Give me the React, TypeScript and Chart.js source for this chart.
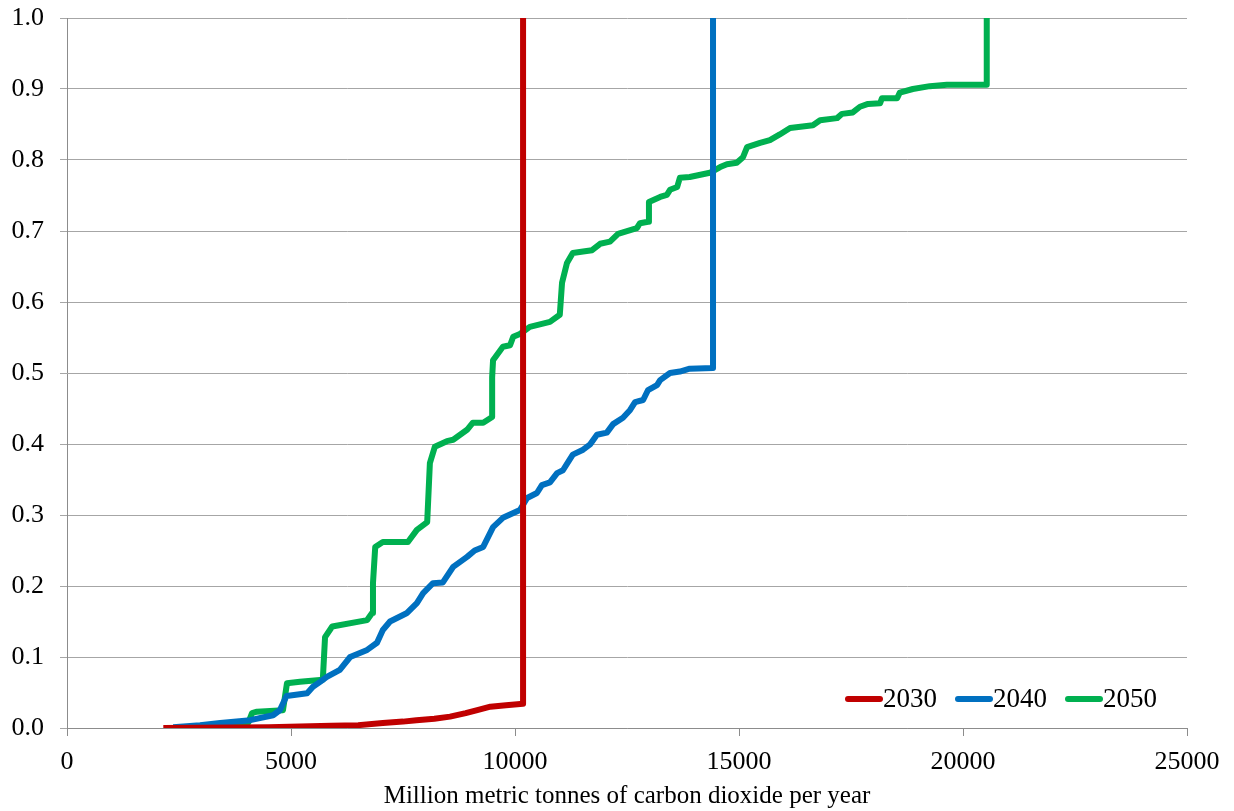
import React, { useEffect, useRef } from "react";
import { Chart, registerables } from "chart.js";

Chart.register(...registerables);

const seriesLabels = ["2030", "2040", "2050"];

const x2030 = [2150, 4500, 5900, 6500, 7050, 7500, 7800, 8200, 8550, 8900, 9200, 9450, 9800, 10180, 10180];
const y2030 = [0, 0.001, 0.003, 0.004, 0.007, 0.009, 0.011, 0.013, 0.016, 0.021, 0.026, 0.030, 0.032, 0.034, 1.0];

const x2040 = [2370, 2970, 3420, 4090, 4600, 4750, 4900, 5360, 5490, 5650, 5800, 6090, 6320, 6700, 6920, 7050, 7210, 7590, 7810, 7950, 8170, 8390, 8620, 8930, 9100, 9290, 9510, 9730, 10110, 10270, 10490, 10600, 10780, 10940, 11070, 11290, 11520, 11670, 11830, 12050, 12190, 12410, 12570, 12680, 12860, 12970, 13170, 13240, 13460, 13680, 13900, 14420, 14420];
const y2040 = [0.001, 0.004, 0.007, 0.011, 0.018, 0.025, 0.045, 0.049, 0.058, 0.065, 0.072, 0.082, 0.1, 0.11, 0.12, 0.138, 0.15, 0.162, 0.176, 0.19, 0.204, 0.205, 0.227, 0.241, 0.25, 0.255, 0.283, 0.296, 0.307, 0.324, 0.331, 0.342, 0.346, 0.359, 0.363, 0.385, 0.392, 0.399, 0.413, 0.416, 0.428, 0.437, 0.448, 0.459, 0.462, 0.476, 0.483, 0.49, 0.5, 0.502, 0.506, 0.507, 1.0];

const x2050 = [3420, 4050, 4130, 4240, 4820, 4910, 5200, 5710, 5760, 5920, 6700, 6810, 6830, 6880, 7050, 7610, 7810, 8040, 8100, 8210, 8480, 8620, 8930, 9060, 9290, 9490, 9490, 9510, 9730, 9890, 9960, 10110, 10330, 10780, 11000, 11050, 11160, 11290, 11520, 11720, 11900, 12120, 12300, 12720, 12790, 12970, 12990, 13240, 13390, 13460, 13620, 13680, 13900, 14350, 14580, 14730, 14950, 15090, 15180, 15470, 15690, 15910, 16140, 16650, 16810, 17190, 17300, 17540, 17700, 17880, 18150, 18190, 18530, 18590, 18880, 19260, 19640, 20530, 20530];
const y2050 = [0.001, 0.008, 0.021, 0.023, 0.025, 0.063, 0.065, 0.068, 0.128, 0.143, 0.152, 0.162, 0.204, 0.255, 0.262, 0.262, 0.279, 0.29, 0.373, 0.396, 0.404, 0.406, 0.42, 0.43, 0.43, 0.438, 0.494, 0.518, 0.537, 0.539, 0.551, 0.555, 0.565, 0.572, 0.582, 0.627, 0.655, 0.669, 0.671, 0.673, 0.682, 0.685, 0.696, 0.704, 0.711, 0.713, 0.741, 0.748, 0.751, 0.758, 0.762, 0.775, 0.776, 0.782, 0.79, 0.794, 0.796, 0.804, 0.818, 0.824, 0.828, 0.836, 0.845, 0.849, 0.856, 0.859, 0.865, 0.867, 0.875, 0.879, 0.88, 0.887, 0.887, 0.895, 0.9, 0.904, 0.906, 0.906, 1.0];

const xTitle = "Million metric tonnes of carbon dioxide per year";

const COLORS = ["#C00000", "#0070C0", "#00B050"];
const FONT = '"Liberation Serif", "Times New Roman", serif';

function pts(xs: number[], ys: number[]) {
  return xs.map((x, i) => ({ x, y: ys[i] }));
}

const insideLegend = {
  id: "insideLegend",
  afterDraw(chart: any) {
    const { ctx, chartArea } = chart;
    ctx.save();
    ctx.font = `27px ${FONT}`;
    const sample = 38;
    const gap = 18;
    const items = chart.data.datasets.map((d: any) => ({
      label: d.label,
      color: d.borderColor,
      w: ctx.measureText(d.label).width,
    }));
    const total = items.reduce((s: number, it: any) => s + sample + it.w, 0) + gap * (items.length - 1);
    let x = chartArea.right - 30 - total;
    const y = chartArea.bottom - 29;
    for (const it of items) {
      ctx.strokeStyle = it.color;
      ctx.lineWidth = 6;
      ctx.lineCap = "round";
      ctx.beginPath();
      ctx.moveTo(x + 3, y);
      ctx.lineTo(x + sample - 3, y);
      ctx.stroke();
      ctx.fillStyle = "#000";
      ctx.textBaseline = "middle";
      ctx.textAlign = "left";
      ctx.fillText(it.label, x + sample, y + 1);
      x += sample + it.w + gap;
    }
    ctx.restore();
  },
};

export default function App() {
  const ref = useRef<HTMLCanvasElement>(null);
  useEffect(() => {
    if (!ref.current) return;
    const series = [pts(x2030, y2030), pts(x2040, y2040), pts(x2050, y2050)];
    const chart = new Chart(ref.current, {
      type: "scatter",
      data: {
        datasets: series.map((data, i) => ({
          label: seriesLabels[i],
          data,
          showLine: true,
          borderColor: COLORS[i],
          backgroundColor: COLORS[i],
          borderWidth: 6,
          pointRadius: 0,
          tension: 0,
          borderJoinStyle: "round",
          borderCapStyle: "butt",
        })),
      },
      options: {
        animation: false,
        responsive: false,
        maintainAspectRatio: false,
        layout: { padding: { top: 18, right: 47, left: 0, bottom: 0 } },
        plugins: {
          legend: { display: false },
          tooltip: { enabled: false },
        },
        scales: {
          x: {
            type: "linear",
            min: 0,
            max: 25000,
            ticks: {
              stepSize: 5000,
              color: "#000",
              font: { family: FONT, size: 26 },
              padding: 11,
              maxRotation: 0,
              callback: (v: any) => String(v),
            },
            grid: {
              drawOnChartArea: false,
              drawTicks: true,
              tickLength: 8,
              color: "#8c8c8c",
            },
            border: { display: true, color: "#8c8c8c", width: 1 },
            title: {
              display: true,
              text: xTitle,
              color: "#000",
              font: { family: FONT, size: 25 },
              padding: { top: 0, bottom: 0 },
            },
            afterFit: (scale: any) => {
              scale.height = 83;
              scale.paddingLeft = 0;
              scale.paddingRight = 0;
            },
          },
          y: {
            type: "linear",
            min: 0,
            max: 1,
            ticks: {
              stepSize: 0.1,
              color: "#000",
              font: { family: FONT, size: 26 },
              padding: 16,
              callback: (v: any) => Number(v).toFixed(1),
            },
            grid: {
              drawTicks: true,
              tickLength: 7,
              color: "#a6a6a6",
            },
            border: { display: true, color: "#8c8c8c", width: 1 },
            afterFit: (scale: any) => {
              scale.width = 67;
              scale.paddingTop = 0;
              scale.paddingBottom = 0;
            },
          },
        },
      },
      plugins: [insideLegend],
    });
    return () => chart.destroy();
  }, []);
  return (
    <div style={{ position: "fixed", left: 0, top: 0, width: 1234, height: 811, background: "#fff" }}>
      <canvas ref={ref} width={1234} height={811} style={{ display: "block", width: 1234, height: 811 }} />
    </div>
  );
}
